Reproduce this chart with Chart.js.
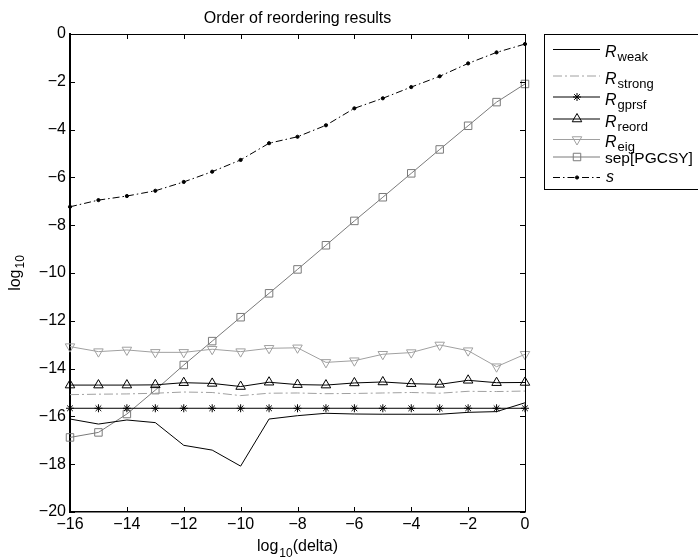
<!DOCTYPE html>
<html>
<head>
<meta charset="utf-8">
<script src="https://cdn.jsdelivr.net/npm/chart.js@4.4.0/dist/chart.umd.min.js"></script>
<style>
  html, body { margin: 0; padding: 0; background: #fff; }
  #wrap { width: 698px; height: 557px; }
</style>
</head>
<body>
<div id="wrap"><canvas id="chartOrder" width="698" height="557"></canvas></div>
<script>
// x values: log10(delta)
var deltaExp = [-16, -15, -14, -13, -12, -11, -10, -9, -8, -7, -6, -5, -4, -3, -2, -1, 0];

// series (log10 values)
var rWeak   = [-16.11, -16.32, -16.15, -16.26, -17.21, -17.41, -18.08, -16.11, -15.97, -15.87, -15.90, -15.91, -15.91, -15.91, -15.83, -15.80, -15.43];
var rStrong = [-15.09, -15.07, -15.06, -15.03, -14.98, -15.00, -15.13, -15.03, -15.02, -15.05, -15.04, -15.02, -15.00, -15.03, -14.95, -14.96, -14.94];
var rGprsf  = [-15.66, -15.66, -15.66, -15.66, -15.66, -15.66, -15.66, -15.66, -15.66, -15.66, -15.66, -15.66, -15.66, -15.66, -15.66, -15.66, -15.66];
var rReord  = [-14.69, -14.69, -14.69, -14.68, -14.59, -14.62, -14.75, -14.57, -14.67, -14.69, -14.60, -14.56, -14.63, -14.66, -14.49, -14.59, -14.58];
var rEig    = [-13.08, -13.29, -13.22, -13.32, -13.32, -13.19, -13.29, -13.15, -13.13, -13.74, -13.67, -13.40, -13.33, -13.01, -13.25, -13.92, -13.40];
var sepPG   = [-16.88, -16.67, -15.90, -14.90, -13.85, -12.85, -11.85, -10.85, -9.85, -8.84, -7.82, -6.83, -5.83, -4.83, -3.84, -2.85, -2.09];
var sVals   = [-7.23, -6.95, -6.78, -6.56, -6.19, -5.76, -5.27, -4.57, -4.30, -3.82, -3.11, -2.69, -2.22, -1.77, -1.23, -0.77, -0.42];

// legend text
var legendMain = ['R', 'R', 'R', 'R', 'R', 'sep[PGCSY]', 's'];
var legendSub  = ['weak', 'strong', 'gprsf', 'reord', 'eig', '', ''];

var FONT = '"Liberation Sans", Arial, Helvetica, sans-serif';

function pts(ys) {
    return deltaExp.map(function (x, i) { return { x: x, y: ys[i] }; });
}

function series(data, color, dash, style, radius, rotation, fill) {
    return {
        data: pts(data),
        borderColor: color,
        borderWidth: 1,
        borderDash: dash,
        pointStyle: style || false,
        pointRadius: style ? radius : 0,
        pointRotation: rotation || 0,
        pointBorderColor: color,
        pointBackgroundColor: fill || 'rgba(0,0,0,0)',
        pointBorderWidth: 1,
        pointHoverRadius: style ? radius : 0,
        tension: 0,
        fill: false,
        clip: false
    };
}

var datasets = [
    series(rWeak, '#000000', [], null, 0),
    series(rStrong, '#a0a0a0', [9, 3, 2, 3], null, 0),
    series(rGprsf, '#000000', [], 'star', 4),
    series(rReord, '#000000', [], 'triangle', 5.5),
    series(rEig, '#a0a0a0', [], 'triangle', 5.5, 180),
    series(sepPG, '#7a7a7a', [], 'rect', 5.3),
    series(sVals, '#000000', [7, 3, 1.5, 3], 'circle', 1.6, 0, '#000000')
];

function minusLabel(v) {
    return v < 0 ? '\u2212' + Math.abs(v) : String(v);
}

// text with a subscript, returns width
function subText(ctx, main, sub, x, y, mainFont, subFont, drop, doDraw) {
    ctx.font = mainFont;
    var w1 = ctx.measureText(main).width;
    ctx.font = subFont;
    var w2 = sub ? ctx.measureText(sub).width : 0;
    if (doDraw) {
        ctx.font = mainFont;
        ctx.fillText(main, x, y);
        if (sub) {
            ctx.font = subFont;
            ctx.fillText(sub, x + w1 + 1, y + drop);
        }
    }
    return w1 + w2 + 1;
}

var matlabFrame = {
    id: 'matlabFrame',
    afterDraw: function (chart) {
        var ctx = chart.ctx;
        var a = chart.chartArea;
        var xs = chart.scales.x, ys = chart.scales.y;
        ctx.save();

        // box
        ctx.strokeStyle = '#000';
        ctx.lineWidth = 1;
        ctx.beginPath();
        ctx.moveTo(a.left, a.top + 0.5);
        ctx.lineTo(a.right + 0.5, a.top + 0.5);
        ctx.lineTo(a.right + 0.5, a.bottom);
        ctx.stroke();

        // inward ticks on all sides
        ctx.beginPath();
        xs.ticks.forEach(function (t) {
            var px = Math.round(xs.getPixelForValue(t.value)) + 0.5;
            ctx.moveTo(px, a.bottom); ctx.lineTo(px, a.bottom - 5);
            ctx.moveTo(px, a.top); ctx.lineTo(px, a.top + 5);
        });
        ys.ticks.forEach(function (t) {
            var py = Math.round(ys.getPixelForValue(t.value)) + 0.5;
            ctx.moveTo(a.left, py); ctx.lineTo(a.left + 5, py);
            ctx.moveTo(a.right, py); ctx.lineTo(a.right - 5, py);
        });
        ctx.stroke();

        // title
        ctx.fillStyle = '#000';
        ctx.textBaseline = 'alphabetic';
        var midX = (a.left + a.right) / 2;
        ctx.font = '16px ' + FONT;
        ctx.textAlign = 'center';
        ctx.fillText('Order of reordering results', midX, 23);
        ctx.textAlign = 'left';

        // x label: log10(delta)
        var f16 = '16px ' + FONT, f12 = '12px ' + FONT;
        ctx.font = f16;
        var wLog = ctx.measureText('log').width;
        var wRest = ctx.measureText('(delta)').width;
        ctx.font = f12;
        var wTen = ctx.measureText('10').width;
        var total = wLog + wTen + wRest + 1;
        var x0 = midX - total / 2;
        ctx.font = f16;
        ctx.fillText('log', x0, 551);
        ctx.font = f12;
        ctx.fillText('10', x0 + wLog + 1, 557);
        ctx.font = f16;
        ctx.fillText('(delta)', x0 + wLog + wTen + 1, 551);

        // y label: log10
        ctx.save();
        ctx.translate(20, (a.top + a.bottom) / 2);
        ctx.rotate(-Math.PI / 2);
        var wy = subText(ctx, 'log', '10', 0, 0, f16, f12, 4, false);
        subText(ctx, 'log', '10', -wy / 2, 0, f16, f12, 4, true);
        ctx.restore();

        // legend box
        var bx = 544, by = 34, bw = 170, bh = 155;
        ctx.fillStyle = '#fff';
        ctx.fillRect(bx, by, bw, bh);
        ctx.strokeStyle = '#000';
        ctx.lineWidth = 1;
        ctx.strokeRect(bx + 0.5, by + 0.5, bw, bh);

        var rowY = [49, 75.5, 96.5, 118.5, 139, 156.5, 177];
        chart.data.datasets.forEach(function (ds, i) {
            var ly = rowY[i] + 0.5;
            ctx.strokeStyle = ds.borderColor;
            ctx.lineWidth = 1;
            ctx.setLineDash(ds.borderDash || []);
            ctx.beginPath();
            ctx.moveTo(553, ly);
            ctx.lineTo(600, ly);
            ctx.stroke();
            ctx.setLineDash([]);
            if (ds.pointStyle && Chart.helpers && Chart.helpers.drawPoint) {
                ctx.fillStyle = ds.pointBackgroundColor;
                ctx.strokeStyle = ds.pointBorderColor;
                Chart.helpers.drawPoint(ctx, {
                    pointStyle: ds.pointStyle,
                    radius: ds.pointRadius,
                    rotation: ds.pointRotation,
                    borderWidth: 1
                }, 577, ly);
            }
            ctx.fillStyle = '#000';
            if (legendSub[i]) {
                subText(ctx, legendMain[i], legendSub[i], 605, rowY[i] + 8,
                    'italic 16px ' + FONT, '13px ' + FONT, 4, true);
            } else if (legendMain[i] === 's') {
                ctx.font = 'italic 16px ' + FONT;
                ctx.fillText('s', 606, rowY[i] + 5);
            } else {
                ctx.font = '15.5px ' + FONT;
                ctx.fillText(legendMain[i], 605, rowY[i] + 6);
            }
        });

        ctx.restore();
    }
};

var chartOrder = new Chart(document.getElementById('chartOrder').getContext('2d'), {
    type: 'line',
    data: { datasets: datasets },
    plugins: [matlabFrame],
    options: {
        responsive: false,
        animation: false,
        devicePixelRatio: 1,
        layout: {
            autoPadding: false,
            padding: { left: 0, right: 173, top: 34, bottom: 0 }
        },
        plugins: {
            legend: { display: false },
            title: { display: false },
            tooltip: { enabled: false }
        },
        scales: {
            x: {
                type: 'linear',
                min: -16,
                max: 0,
                grid: { display: false, drawTicks: false },
                border: { display: true, color: '#000', width: 1.5 },
                ticks: {
                    stepSize: 2,
                    padding: 3,
                    color: '#000',
                    font: { family: FONT, size: 16 },
                    maxRotation: 0,
                    callback: minusLabel
                },
                afterFit: function (scale) { scale.height = 45; }
            },
            y: {
                type: 'linear',
                min: -20,
                max: 0,
                grid: { display: false, drawTicks: false },
                border: { display: true, color: '#000', width: 2 },
                ticks: {
                    stepSize: 2,
                    padding: 4,
                    color: '#000',
                    font: { family: FONT, size: 16 },
                    callback: minusLabel
                },
                afterFit: function (scale) { scale.width = 70; }
            }
        }
    }
});
</script>
</body>
</html>
